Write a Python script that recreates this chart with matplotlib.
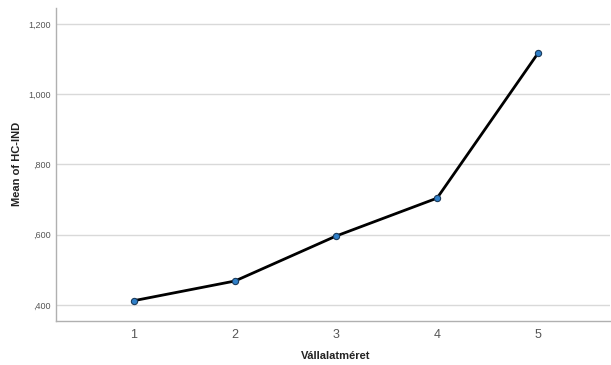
import matplotlib.pyplot as plt
from matplotlib.ticker import FixedLocator

plt.rcParams['font.family'] = ['Liberation Sans', 'DejaVu Sans']

sizes = [1, 2, 3, 4, 5]
means = [0.412, 0.468, 0.596, 0.704, 1.117]
y_ticks = [0.4, 0.6, 0.8, 1.0, 1.2]
y_tick_labels = [',400', ',600', ',800', '1,000', '1,200']

dpi = 100
fig = plt.figure(figsize=(611 / dpi, 365 / dpi), dpi=dpi)
ax = fig.add_axes([0.0917, 0.1205, 0.9063, 0.8575])

ax.plot(sizes, means, color='black', linewidth=2, zorder=3,
        marker='o', markersize=4.5, markerfacecolor='#2f7fc8',
        markeredgecolor='#1a3a5a', markeredgewidth=0.8)

ax.set_xlim(0.228, 5.71)
ax.set_ylim(0.354, 1.2455)
ax.set_xticks(sizes)
ax.set_xticklabels([str(s) for s in sizes])
ax.yaxis.set_major_locator(FixedLocator(y_ticks))
ax.set_yticklabels(y_tick_labels)

ax.grid(axis='y', color='#d9d9d9', linewidth=1)
ax.set_axisbelow(True)
ax.tick_params(length=0, colors='#555555')
ax.tick_params(axis='x', labelsize=9, pad=6)
ax.tick_params(axis='y', labelsize=6.5, pad=4)

for side in ['top', 'right']:
    ax.spines[side].set_visible(False)
for side in ['left', 'bottom']:
    ax.spines[side].set_color('#b0b0b0')
    ax.spines[side].set_linewidth(1)

# axis titles placed in figure pixels so they are not clipped
fig.text(336 / 611, 1 - 356 / 365, 'Vállalatméret', fontsize=8, fontweight='bold',
         ha='center', va='center', color='#222222')
fig.text(17 / 611, 1 - 164 / 365, 'Mean of HC-IND', fontsize=8, fontweight='bold',
         ha='center', va='center', rotation=90, color='#222222')

plt.savefig('out.png', dpi=dpi)
plt.close()
